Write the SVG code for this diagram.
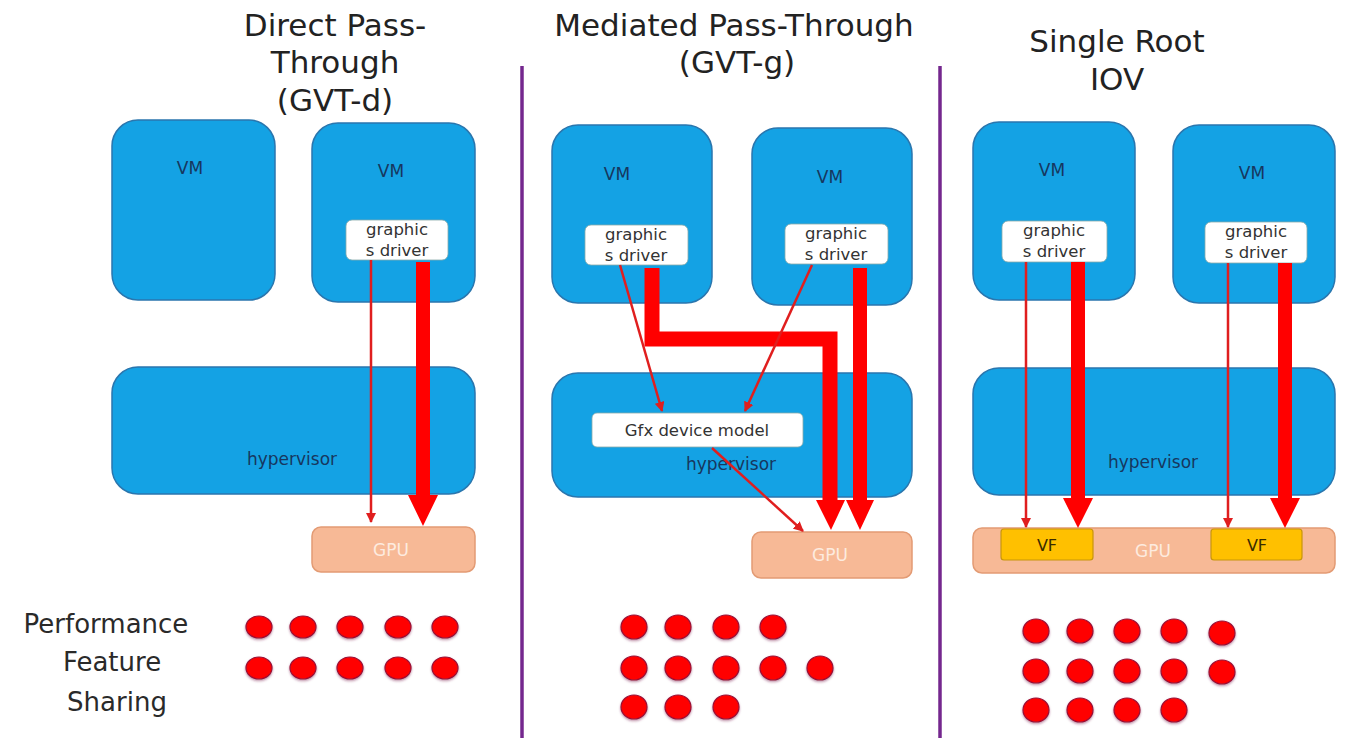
<svg xmlns="http://www.w3.org/2000/svg" width="1367" height="742" viewBox="0 0 1367 742">
<style>
.title{font-family:"DejaVu Sans",Verdana,sans-serif;font-size:31px;fill:#222;text-anchor:middle}
.side{font-family:"DejaVu Sans",Verdana,sans-serif;font-size:26px;fill:#2a2a2a;text-anchor:middle}
.blue{fill:#14A2E4;stroke:#2A76AE;stroke-width:1.5}
.lbl{font-family:"DejaVu Sans",Verdana,sans-serif;font-size:17px;fill:#17375E;text-anchor:middle}
.drv{fill:#fff;stroke:#8aa;stroke-width:0.8}
.dtxt{font-family:"DejaVu Sans",Verdana,sans-serif;font-size:16.5px;fill:#333;text-anchor:middle}
.gpu{fill:#F7B996;stroke:#E39B74;stroke-width:1.5}
.gtxt{font-family:"DejaVu Sans",Verdana,sans-serif;font-size:17px;fill:#FDEBDF;text-anchor:middle}
.vf{fill:#FFC000;stroke:#C8960A;stroke-width:1.2}
.vtxt{font-family:"DejaVu Sans",Verdana,sans-serif;font-size:16px;fill:#3a2a00;text-anchor:middle}
.thin{stroke:#E01E1E;stroke-width:2.5;fill:none;marker-end:url(#ah)}
.thick{fill:#FF0000}
.thickline{stroke:#FF0000;stroke-width:15;fill:none;stroke-linejoin:miter}
.div{stroke:#74278E;stroke-width:3.5}
.dot{fill:#FF0000;stroke:#9A1035;stroke-width:1.2;filter:url(#sh)}
</style>
<defs>
<marker id="ah" markerWidth="10" markerHeight="10" refX="9" refY="5" orient="auto" markerUnits="userSpaceOnUse" viewBox="0 0 10 10">
<path d="M0,0 L10,5 L0,10 z" fill="#E01E1E"/>
</marker>
<filter id="sh" x="-30%" y="-30%" width="160%" height="170%">
<feDropShadow dx="0" dy="1.5" stdDeviation="1.2" flood-color="#7a2050" flood-opacity="0.5"/>
</filter>
</defs>
<rect width="1367" height="742" fill="#fff"/>

<g id="titles">
<text class="title" x="335" y="36">Direct Pass-</text>
<text class="title" x="335" y="73">Through</text>
<text class="title" x="335" y="111">(GVT-d)</text>
<text class="title" x="734" y="36">Mediated Pass-Through</text>
<text class="title" x="737" y="73">(GVT-g)</text>
<text class="title" x="1117" y="52">Single Root</text>
<text class="title" x="1117" y="90">IOV</text>
</g>

<g id="dividers">
<line class="div" x1="522" y1="66" x2="522" y2="738"/>
<line class="div" x1="940" y1="66" x2="940" y2="738"/>
</g>

<!-- Panel 1 -->
<g id="p1-vm1"><rect class="blue" x="112" y="120" width="163" height="180" rx="26"/><text class="lbl" x="190" y="174">VM</text></g>
<g id="p1-vm2"><rect class="blue" x="312" y="123" width="163" height="179" rx="26"/><text class="lbl" x="391" y="177">VM</text></g>
<g id="p1-hyp"><rect class="blue" x="112" y="367" width="363" height="127" rx="26"/><text class="lbl" x="292" y="465">hypervisor</text></g>
<g id="p1-gpu"><rect class="gpu" x="312" y="527" width="163" height="45" rx="9"/><text class="gtxt" x="391" y="556">GPU</text></g>
<g id="p1-drv"><rect class="drv" x="346" y="220" width="102" height="40" rx="6"/><text class="dtxt" x="397" y="235">graphic</text><text class="dtxt" x="397" y="256">s driver</text></g>

<!-- Panel 2 -->
<g id="p2-vm1"><rect class="blue" x="552" y="125" width="160" height="178" rx="26"/><text class="lbl" x="617" y="180">VM</text></g>
<g id="p2-vm2"><rect class="blue" x="752" y="128" width="160" height="177" rx="26"/><text class="lbl" x="830" y="183">VM</text></g>
<g id="p2-hyp"><rect class="blue" x="552" y="373" width="360" height="124" rx="26"/><text class="lbl" x="731" y="470">hypervisor</text></g>
<g id="p2-gfx"><rect class="drv" x="592" y="413" width="211" height="34" rx="5"/><text class="dtxt" x="697" y="436">Gfx device model</text></g>
<g id="p2-gpu"><rect class="gpu" x="752" y="532" width="160" height="46" rx="9"/><text class="gtxt" x="830" y="561">GPU</text></g>
<g id="p2-drv1"><rect class="drv" x="585" y="225" width="103" height="40" rx="6"/><text class="dtxt" x="636" y="240">graphic</text><text class="dtxt" x="636" y="261">s driver</text></g>
<g id="p2-drv2"><rect class="drv" x="785" y="224" width="103" height="40" rx="6"/><text class="dtxt" x="836" y="239">graphic</text><text class="dtxt" x="836" y="260">s driver</text></g>

<!-- Panel 3 -->
<g id="p3-vm1"><rect class="blue" x="973" y="122" width="162" height="178" rx="26"/><text class="lbl" x="1052" y="176">VM</text></g>
<g id="p3-vm2"><rect class="blue" x="1173" y="125" width="162" height="178" rx="26"/><text class="lbl" x="1252" y="179">VM</text></g>
<g id="p3-hyp"><rect class="blue" x="973" y="368" width="362" height="127" rx="26"/><text class="lbl" x="1153" y="468">hypervisor</text></g>
<g id="p3-gpu"><rect class="gpu" x="973" y="528" width="362" height="45" rx="9"/><text class="gtxt" x="1153" y="557">GPU</text></g>
<g id="p3-vf1"><rect class="vf" x="1001" y="529" width="92" height="31" rx="3"/><text class="vtxt" x="1047" y="551">VF</text></g>
<g id="p3-vf2"><rect class="vf" x="1211" y="529" width="91" height="31" rx="3"/><text class="vtxt" x="1257" y="551">VF</text></g>
<g id="p3-drv1"><rect class="drv" x="1002" y="221" width="105" height="41" rx="6"/><text class="dtxt" x="1054" y="236">graphic</text><text class="dtxt" x="1054" y="257">s driver</text></g>
<g id="p3-drv2"><rect class="drv" x="1205" y="222" width="102" height="41" rx="6"/><text class="dtxt" x="1256" y="237">graphic</text><text class="dtxt" x="1256" y="258">s driver</text></g>

<g id="connectors">
<!-- panel 1 -->
<line class="thin" x1="371" y1="260" x2="371" y2="522"/>
<polygon class="thick" points="416,262 430,262 430,495 438,495 423,526 408,495 416,495"/>
<!-- panel 2 -->
<polyline class="thickline" points="652,268 652,339 830,339 830,500"/>
<polygon class="thick" points="816,500 845,500 831,530"/>
<polygon class="thick" points="853,268 867,268 867,500 874,500 860,530 846,500 853,500"/>
<line class="thin" x1="620" y1="265" x2="662" y2="411"/>
<line class="thin" x1="812" y1="265" x2="745" y2="411"/>
<line class="thin" x1="712" y1="448" x2="803" y2="531"/>
<!-- panel 3 -->
<line class="thin" x1="1026" y1="262" x2="1026" y2="527"/>
<polygon class="thick" points="1071,262 1085,262 1085,498 1093,498 1078,528 1063,498 1071,498"/>
<line class="thin" x1="1228" y1="263" x2="1228" y2="527"/>
<polygon class="thick" points="1278,263 1292,263 1292,498 1300,498 1285,528 1270,498 1278,498"/>
</g>

<g id="legend">
<text class="side" x="106" y="633">Performance</text>
<text class="side" x="112" y="671">Feature</text>
<text class="side" x="117" y="711">Sharing</text>
</g>

<g id="dots">
<ellipse class="dot" cx="259" cy="627" rx="13" ry="11"/>
<ellipse class="dot" cx="303" cy="627" rx="13" ry="11"/>
<ellipse class="dot" cx="350" cy="627" rx="13" ry="11"/>
<ellipse class="dot" cx="398" cy="627" rx="13" ry="11"/>
<ellipse class="dot" cx="445" cy="627" rx="13" ry="11"/>
<ellipse class="dot" cx="259" cy="668" rx="13" ry="11"/>
<ellipse class="dot" cx="303" cy="668" rx="13" ry="11"/>
<ellipse class="dot" cx="350" cy="668" rx="13" ry="11"/>
<ellipse class="dot" cx="398" cy="668" rx="13" ry="11"/>
<ellipse class="dot" cx="445" cy="668" rx="13" ry="11"/>

<ellipse class="dot" cx="634" cy="627" rx="13" ry="12"/>
<ellipse class="dot" cx="678" cy="627" rx="13" ry="12"/>
<ellipse class="dot" cx="726" cy="627" rx="13" ry="12"/>
<ellipse class="dot" cx="773" cy="627" rx="13" ry="12"/>
<ellipse class="dot" cx="634" cy="668" rx="13" ry="12"/>
<ellipse class="dot" cx="678" cy="668" rx="13" ry="12"/>
<ellipse class="dot" cx="726" cy="668" rx="13" ry="12"/>
<ellipse class="dot" cx="773" cy="668" rx="13" ry="12"/>
<ellipse class="dot" cx="820" cy="668" rx="13" ry="12"/>
<ellipse class="dot" cx="634" cy="707" rx="13" ry="12"/>
<ellipse class="dot" cx="678" cy="707" rx="13" ry="12"/>
<ellipse class="dot" cx="726" cy="707" rx="13" ry="12"/>

<ellipse class="dot" cx="1036" cy="631" rx="13" ry="12"/>
<ellipse class="dot" cx="1080" cy="631" rx="13" ry="12"/>
<ellipse class="dot" cx="1127" cy="631" rx="13" ry="12"/>
<ellipse class="dot" cx="1174" cy="631" rx="13" ry="12"/>
<ellipse class="dot" cx="1222" cy="633" rx="13" ry="12"/>
<ellipse class="dot" cx="1036" cy="671" rx="13" ry="12"/>
<ellipse class="dot" cx="1080" cy="671" rx="13" ry="12"/>
<ellipse class="dot" cx="1127" cy="671" rx="13" ry="12"/>
<ellipse class="dot" cx="1174" cy="671" rx="13" ry="12"/>
<ellipse class="dot" cx="1222" cy="672" rx="13" ry="12"/>
<ellipse class="dot" cx="1036" cy="710" rx="13" ry="12"/>
<ellipse class="dot" cx="1080" cy="710" rx="13" ry="12"/>
<ellipse class="dot" cx="1127" cy="710" rx="13" ry="12"/>
<ellipse class="dot" cx="1174" cy="710" rx="13" ry="12"/>
</g>
</svg>
